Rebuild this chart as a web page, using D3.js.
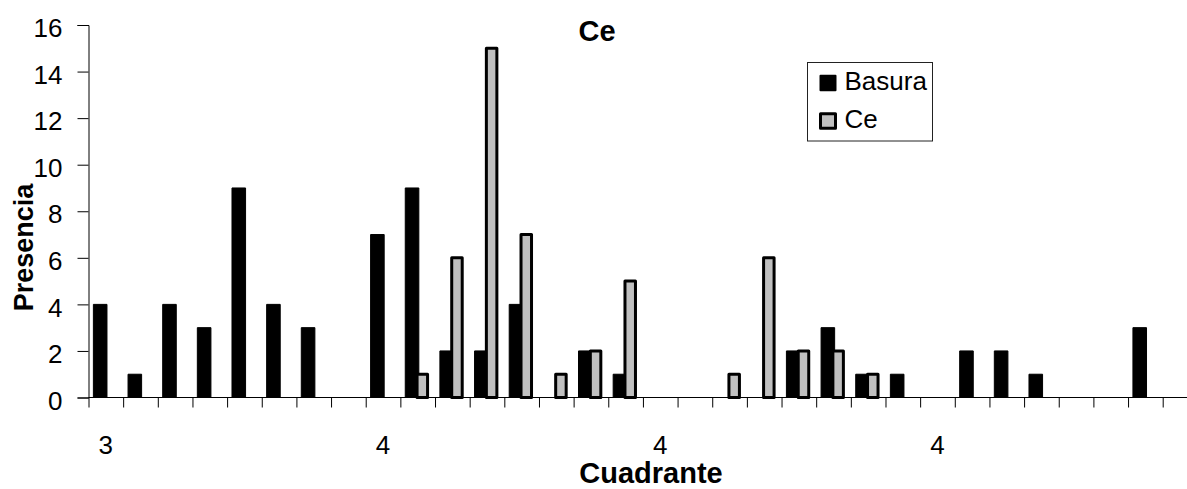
<!DOCTYPE html>
<html>
<head>
<meta charset="utf-8">
<script src="https://cdn.jsdelivr.net/npm/d3@7"></script>
<style>
  html, body { margin: 0; padding: 0; background: #fff; }
  svg { display: block; font-family: "Liberation Sans", Arial, sans-serif; }
</style>
</head>
<body>
<svg id="chart" width="1187" height="489"></svg>
<script>
// Presence counts per quadrant (31 quadrants along the axis)
const basura = [4, 1, 4, 3, 9, 4, 3, 0, 7, 9, 2, 2, 4, 0, 2, 1, 0, 0, 0, 0, 2, 3, 1, 1, 0, 2, 2, 1, 0, 0, 3];
const ce     = [0, 0, 0, 0, 0, 0, 0, 0, 0, 1, 6, 15, 7, 1, 2, 5, 0, 0, 1, 6, 2, 2, 1, 0, 0, 0, 0, 0, 0, 0, 0];

// Category labels: only every 8th quadrant carries a visible label
const tickLabels = ["3", "4", "4", "4"];
const labelEvery = 8;
const yTicks = [0, 2, 4, 6, 8, 10, 12, 14, 16];

const seriesNames = ["Basura", "Ce"];
const colors = { Basura: "#000000", Ce: "#c0c0c0" };

const nCat = basura.length;
const categories = d3.range(nCat);

const svg = d3.select("#chart");
const W = 1187;

const plotLeft = 88.5, plotRight = 1162.7, plotTop = 25, plotBottom = 397.5;

const x = d3.scaleBand().domain(categories).range([plotLeft, plotRight]).padding(0);
const xEdge = d3.scaleLinear().domain([0, nCat]).range([plotLeft, plotRight]);
const y = d3.scaleLinear().domain([0, 16]).range([plotBottom, plotTop]);
const bw = x.bandwidth();

// Bars: black series first, grey series overlaps it on the right
const blackOff = bw * 0.141, blackW = bw * 0.392;
const greyOff = bw * 0.482, greyW = bw * 0.303;

svg.append("g").selectAll("rect")
  .data(basura.map((v, i) => ({ i, v })).filter(d => d.v > 0))
  .join("rect")
  .attr("x", d => x(d.i) + blackOff)
  .attr("width", blackW)
  .attr("y", d => y(d.v))
  .attr("height", d => y(0) - y(d.v))
  .attr("fill", colors.Basura)
  .attr("stroke", "#000")
  .attr("stroke-width", 1)
  .attr("stroke-linejoin", "round");

svg.append("g").selectAll("rect")
  .data(ce.map((v, i) => ({ i, v })).filter(d => d.v > 0))
  .join("rect")
  .attr("x", d => x(d.i) + greyOff)
  .attr("width", greyW)
  .attr("y", d => y(d.v))
  .attr("height", d => y(0) - y(d.v))
  .attr("fill", colors.Ce)
  .attr("stroke", "#000")
  .attr("stroke-width", 3)
  .attr("stroke-linejoin", "round");

// Y axis
const yAxis = svg.append("g")
  .attr("transform", `translate(${plotLeft},0)`)
  .call(d3.axisLeft(y).tickValues(yTicks).tickSize(11).tickPadding(15).tickFormat(d3.format("d")));
yAxis.select(".domain").attr("stroke", "#000");
yAxis.selectAll(".tick line").attr("stroke", "#000");
yAxis.selectAll(".tick text")
  .attr("font-size", 26)
  .attr("font-family", "Liberation Sans, Arial, sans-serif")
  .attr("fill", "#000")
  .attr("dy", "0.45em");

// X axis: ticks on quadrant boundaries
const xAxis = svg.append("g")
  .attr("transform", `translate(0,${plotBottom})`)
  .call(d3.axisBottom(xEdge).tickValues(d3.range(0, nCat + 1)).tickSize(10).tickFormat(""));
xAxis.select(".domain").remove();
xAxis.selectAll(".tick line").attr("stroke", "#000");
svg.append("line")
  .attr("x1", plotLeft).attr("x2", W)
  .attr("y1", plotBottom).attr("y2", plotBottom)
  .attr("stroke", "#000");

// X labels at every 8th quadrant centre
svg.append("g").selectAll("text")
  .data(tickLabels)
  .join("text")
  .attr("x", (d, k) => x(k * labelEvery) + bw / 2)
  .attr("y", 453.5)
  .attr("text-anchor", "middle")
  .attr("font-size", 26)
  .text(d => d);

// Titles
svg.append("text")
  .attr("x", 597).attr("y", 40.5)
  .attr("text-anchor", "middle")
  .attr("font-size", 29).attr("font-weight", "bold")
  .text("Ce");

svg.append("text")
  .attr("x", 651).attr("y", 483)
  .attr("text-anchor", "middle")
  .attr("font-size", 29).attr("font-weight", "bold")
  .text("Cuadrante");

svg.append("text")
  .attr("transform", "translate(33,247.5) rotate(-90)")
  .attr("text-anchor", "middle")
  .attr("font-size", 27).attr("font-weight", "bold")
  .text("Presencia");

// Legend
const legend = svg.append("g");
legend.append("rect")
  .attr("x", 807.5).attr("y", 62.5).attr("width", 125).attr("height", 78.5)
  .attr("fill", "#fff").attr("stroke", "#222").attr("stroke-width", 1);

const legendRows = legend.selectAll("g.row")
  .data(seriesNames)
  .join("g")
  .attr("class", "row")
  .attr("transform", (d, i) => `translate(0,${i * 38})`);

legendRows.append("rect")
  .attr("x", 820.5).attr("y", 75.8).attr("width", 15).attr("height", 14.5)
  .attr("fill", d => colors[d])
  .attr("stroke", "#000")
  .attr("stroke-width", d => d === "Ce" ? 3 : 2)
  .attr("stroke-linejoin", "round");

legendRows.append("text")
  .attr("x", 844.5).attr("y", 90)
  .attr("font-size", 26)
  .text(d => d);
</script>
</body>
</html>
